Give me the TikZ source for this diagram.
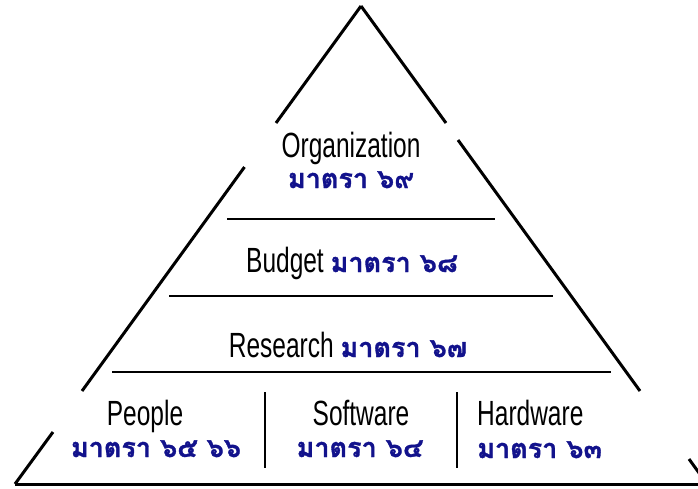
\documentclass[tikz,border=0pt]{standalone}
\usepackage{fontspec}
\setmainfont{Liberation Sans}[FakeStretch=0.7]
\newfontfamily\thaifont[Script=Thai,FakeBold=1.2]{Loma}
\definecolor{thaiblue}{RGB}{18,18,140}
\tikzset{
  side/.style={line width=3pt},
  rule/.style={line width=1.7pt},
  eng/.style={font=\fontsize{35}{35}\selectfont, inner sep=0},
  thai/.style={font=\thaifont\bfseries\fontsize{27}{27}\selectfont, text=thaiblue, inner sep=0}
}
\begin{document}
\begin{tikzpicture}[x=1pt,y=-1pt]
  \useasboundingbox (0,0) rectangle (698,488);
  \clip (0,0) rectangle (698,488);
  \coordinate (A) at (361,6);
  \coordinate (BL) at (15,484);
  \coordinate (BR) at (707,484);
  % sides, broken where the labels sit
  \draw[side] (A) -- (276,123);
  \draw[side] (244.5,167) -- (82,391);
  \draw[side] (53,432) -- (BL);
  \draw[side] (A) -- (446,123);
  \draw[side] (458,140) -- (640,391);
  \draw[side] (689,459) -- (BR);
  \draw[side] (BL) -- (BR);
  % levels
  \coordinate (L1a) at (227,219); \coordinate (L1b) at (495,219);
  \coordinate (L2a) at (169,296); \coordinate (L2b) at (553,296);
  \coordinate (L3a) at (112,372); \coordinate (L3b) at (611,372);
  \draw[rule] (L1a) -- (L1b);
  \draw[rule] (L2a) -- (L2b);
  \draw[rule] (L3a) -- (L3b);
  \coordinate (D1a) at (265,392); \coordinate (D1b) at (265,468);
  \coordinate (D2a) at (457,392); \coordinate (D2b) at (457,468);
  \draw[rule] (D1a) -- (D1b);
  \draw[rule] (D2a) -- (D2b);
  % labels
  \node[eng, anchor=base] (org) at (351,157) {Organization};
  \node[thai, anchor=base] (orgno) at (351,188) {มาตรา ๖๙};
  \node[eng, anchor=base] (bud) at (352,272) {Budget \textcolor{thaiblue}{\thaifont\bfseries\fontsize{27}{27}\selectfont มาตรา ๖๘}};
  \node[eng, anchor=base] (res) at (348,357) {Research \textcolor{thaiblue}{\thaifont\bfseries\fontsize{27}{27}\selectfont มาตรา ๖๗}};
  \node[eng, anchor=base] (ppl) at (145,425) {People};
  \node[thai, anchor=base] (pplno) at (156,457) {มาตรา ๖๕ ๖๖};
  \node[eng, anchor=base] (sw) at (361,425) {Software};
  \node[thai, anchor=base] (swno) at (360,457) {มาตรา ๖๔};
  \node[eng, anchor=base west] (hw) at (477,425) {Hardware};
  \node[thai, anchor=base west] (hwno) at (477,458) {มาตรา ๖๓};
\end{tikzpicture}
\end{document}
